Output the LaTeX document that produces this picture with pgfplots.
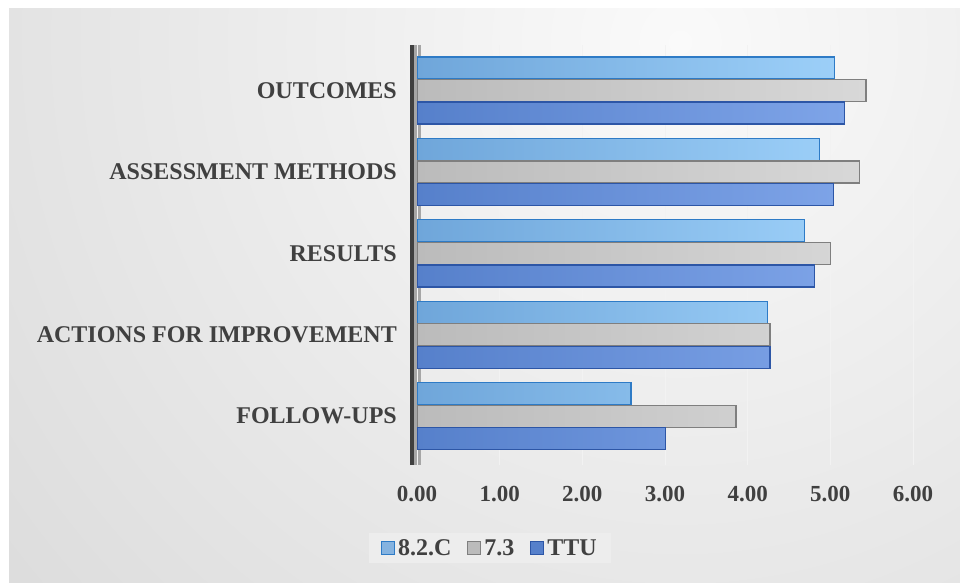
\documentclass[border=0pt]{standalone}
\usepackage{pgfplots}
\usepackage{pgfplotstable}
\pgfplotsset{compat=1.18}
\usepackage{fontspec}
\setmainfont{Liberation Serif}

\definecolor{txt}{HTML}{404040}
\definecolor{aL}{HTML}{6FA6DA}\definecolor{aR}{HTML}{9CCFF8}\definecolor{aE}{HTML}{2E7BC6}
\definecolor{bL}{HTML}{BBBBBB}\definecolor{bR}{HTML}{D8D8D8}\definecolor{bE}{HTML}{7F7F7F}
\definecolor{cL}{HTML}{5680CB}\definecolor{cR}{HTML}{7EA4E8}\definecolor{cE}{HTML}{2D56A6}

% y: 0 = FOLLOW-UPS ... 4 = OUTCOMES
\pgfplotstableread{
y   a     b     c
0   2.59  3.86  3.01
1   4.24  4.27  4.27
2   4.69  5.00  4.81
3   4.87  5.35  5.04
4   5.05  5.43  5.17
}\scores

\begin{document}
\begin{tikzpicture}[x=1pt,y=1pt]
  % background
  \fill[white] (0,0) rectangle (960,582);
  \fill[black!22] (9,0) rectangle (960,573);
  \begin{scope}
    \clip (9,0) rectangle (960,573);
    \shade[inner color=black!2, outer color=black!22] (680,540) circle (1500);
  \end{scope}
  % wall side
  \fill[black!35] (413,117) rectangle (421,537);

  \begin{axis}[
    at={(417pt,117pt)}, anchor=south west,
    scale only axis, width=496pt, height=420pt,
    xmin=0, xmax=6, ymin=-0.6, ymax=4.56,
    axis lines*=left, axis line style={draw=none},
    major tick length=0pt,
    xtick={0,1,2,3,4,5,6},
    ytick={0,1,2,3,4},
    yticklabels={FOLLOW-UPS,ACTIONS FOR IMPROVEMENT,RESULTS,ASSESSMENT METHODS,OUTCOMES},
    /pgf/number format/assume math mode=true,
    xticklabel={\pgfmathprintnumber[fixed,fixed zerofill,precision=2]{\tick}},
    tick label style={font=\fontsize{23}{26}\selectfont\bfseries, text=txt},
    xticklabel style={anchor=center, yshift=-29pt},
    yticklabel style={anchor=east, inner sep=0pt, xshift=-20pt, font=\fontsize{24}{27}\selectfont\bfseries},
    xmajorgrids, grid style={black!5, line width=0.8pt},
    legend columns=3,
    legend style={at={(0.147,-0.198)}, anchor=center, draw=none, fill=black!7,
      inner xsep=12pt, inner ysep=4pt,
      font=\fontsize{24}{27}\selectfont\bfseries, text=txt,
      /tikz/every odd column/.append style={column sep=1pt},
      /tikz/every even column/.append style={column sep=14pt}},
    legend image code/.code={\draw[#1] (0pt,-6.5pt) rectangle (13pt,6.5pt);},
  ]
    \addplot[xbar, bar width=0.27, bar shift=0.277, left color=aL, right color=aR, draw=aE, line width=1.3pt, forget plot]
      table[x=a, y=y] {\scores};
    \addplot[xbar, bar width=0.27, bar shift=0, left color=bL, right color=bR, draw=bE, line width=1.3pt, forget plot]
      table[x=b, y=y] {\scores};
    \addplot[xbar, bar width=0.27, bar shift=-0.277, left color=cL, right color=cR, draw=cE, line width=1.3pt, forget plot]
      table[x=c, y=y] {\scores};
    \addlegendimage{fill=aL!85!white, draw=aE, line width=1pt}
    \addlegendentry{8.2.C}
    \addlegendimage{fill=bL, draw=bE, line width=1pt}
    \addlegendentry{7.3}
    \addlegendimage{fill=cL, draw=cE, line width=1pt}
    \addlegendentry{TTU}
  \end{axis}
  % wall edge
  \draw[line width=4pt, black!75] (412,117) -- (412,537);
\end{tikzpicture}
\end{document}
